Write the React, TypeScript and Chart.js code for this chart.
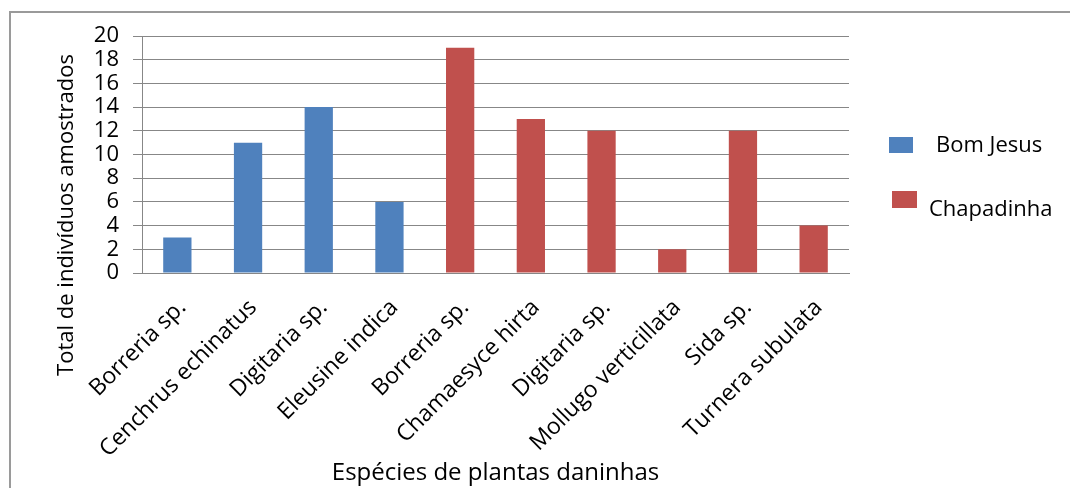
import React, { useEffect, useRef } from "react";
import { Chart, registerables } from "chart.js";

Chart.register(...registerables);

const categories = [
  "Borreria sp.",
  "Cenchrus echinatus",
  "Digitaria sp.",
  "Eleusine indica",
  "Borreria sp.",
  "Chamaesyce hirta",
  "Digitaria sp.",
  "Mollugo verticillata",
  "Sida sp.",
  "Turnera subulata",
];
const bomJesus = [3, 11, 14, 6, null, null, null, null, null, null];
const chapadinha = [null, null, null, null, 19, 13, 12, 2, 12, 4];
const seriesNames = ["Bom Jesus", "Chapadinha"];
const seriesColors = ["#4F81BD", "#C0504D"];
const yMin = 0;
const yMax = 20;
const yStep = 2;
const yTitle = "Total de indivíduos amostrados";
const xTitle = "Espécies de plantas daninhas";

const FONT = "'Open Sans', sans-serif";
const GRID = "#878787";

const framePlugin = {
  id: "frame",
  beforeDraw(chart: any) {
    const ctx = chart.ctx;
    ctx.save();
    ctx.fillStyle = "#ffffff";
    ctx.fillRect(0, 0, chart.width, chart.height);
    ctx.strokeStyle = "#9a9a9a";
    ctx.lineWidth = 2;
    ctx.strokeRect(10, 12, chart.width + 20, chart.height + 20);
    ctx.restore();
  },
};

const yTitlePlugin = {
  id: "yTitleCustom",
  afterDraw(chart: any) {
    const ctx = chart.ctx;
    ctx.save();
    ctx.translate(67, 215);
    ctx.rotate(-Math.PI / 2);
    ctx.font = `22px ${FONT}`;
    ctx.fillStyle = "#000";
    ctx.textAlign = "center";
    ctx.textBaseline = "middle";
    ctx.fillText(yTitle, 0, 0);
    ctx.restore();
  },
};

const legendPlugin = {
  id: "legendCustom",
  afterDraw(chart: any) {
    const ctx = chart.ctx;
    const items = [
      { box: [889, 137, 24, 16], tx: 936, ty: 146 },
      { box: [892, 191, 25, 17], tx: 929, ty: 210 },
    ];
    ctx.save();
    ctx.font = `22px ${FONT}`;
    ctx.textAlign = "left";
    ctx.textBaseline = "middle";
    chart.data.datasets.forEach((ds: any, i: number) => {
      const it = items[i];
      ctx.fillStyle = ds.backgroundColor;
      ctx.fillRect(it.box[0], it.box[1], it.box[2], it.box[3]);
      ctx.fillStyle = "#000";
      ctx.fillText(ds.label, it.tx, it.ty);
    });
    ctx.restore();
  },
};

export default function App() {
  const ref = useRef<HTMLCanvasElement | null>(null);

  useEffect(() => {
    if (!ref.current) return;
    const chart = new Chart(ref.current, {
      type: "bar",
      data: {
        labels: categories,
        datasets: [
          {
            label: seriesNames[0],
            data: bomJesus,
            backgroundColor: seriesColors[0],
            borderWidth: 0,
          },
          {
            label: seriesNames[1],
            data: chapadinha,
            backgroundColor: seriesColors[1],
            borderWidth: 0,
          },
        ],
      },
      options: {
        responsive: false,
        animation: false,
        devicePixelRatio: 1,
        grouped: false,
        categoryPercentage: 0.4,
        barPercentage: 1,
        layout: { padding: { left: 0, top: 36, right: 221, bottom: 0 } },
        plugins: {
          legend: { display: false },
          tooltip: { enabled: false },
        },
        scales: {
          x: {
            grid: { display: false, drawTicks: false },
            border: { display: true, color: GRID, width: 1 },
            ticks: {
              color: "#000",
              font: { family: FONT, size: 23 },
              minRotation: 45,
              maxRotation: 45,
              padding: 21,
              labelOffset: 5,
              autoSkip: false,
            },
            title: {
              display: true,
              text: xTitle,
              color: "#000",
              font: { family: FONT, size: 24 },
              padding: { top: 0, bottom: 0 },
            },
            afterFit(scale: any) {
              scale.height = 215;
            },
          },
          y: {
            min: yMin,
            max: yMax,
            ticks: {
              stepSize: yStep,
              color: "#000",
              font: { family: FONT, size: 22 },
              padding: 14,
              autoSkip: false,
            },
            grid: { color: GRID, tickColor: GRID, tickLength: 9, lineWidth: 1 },
            border: { display: true, color: GRID, width: 1 },
            afterFit(scale: any) {
              scale.width = 142;
            },
          },
        },
      } as any,
      plugins: [framePlugin, yTitlePlugin, legendPlugin],
    });
    return () => chart.destroy();
  }, []);

  return (
    <div style={{ position: "absolute", left: 0, top: 0, width: 1070, height: 488, background: "#fff" }}>
      <canvas ref={ref} width={1070} height={488} style={{ display: "block", width: 1070, height: 488 }} />
    </div>
  );
}
